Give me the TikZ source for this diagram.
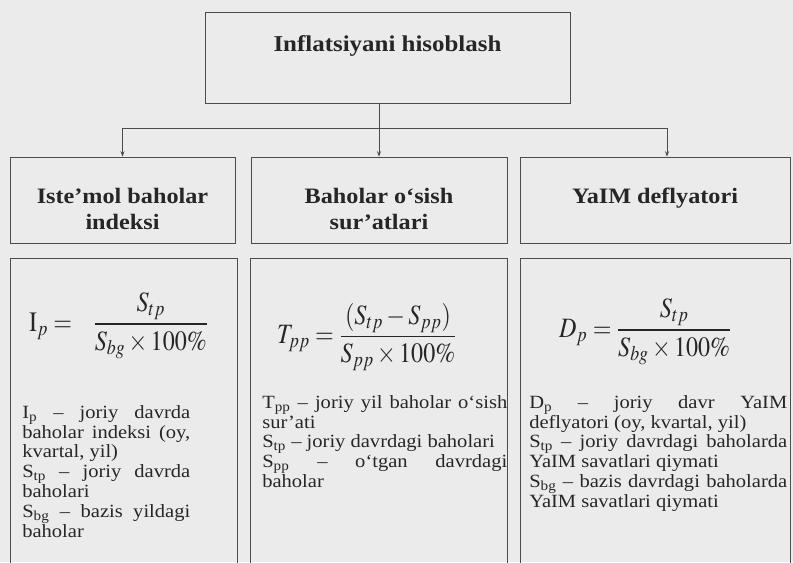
\documentclass[tikz,border=0pt]{standalone}
\usepackage{amsmath}
\usepackage{mathptmx}
\usepackage{fontspec}
\setmainfont{Liberation Serif}[FakeStretch=1.1]
\usetikzlibrary{arrows.meta}

\begin{document}
\begin{tikzpicture}[
        x=0.75pt, y=-0.75pt,
        line/.style={draw=black!70, line width=0.6pt},
        box/.style={line, rectangle, inner sep=0pt},
        head/.style={inner sep=0pt, align=center, text=black!85, font=\fontsize{16.5}{19.5}\selectfont\bfseries},
        panel/.style={box, minimum height=286.5pt},
        formula/.style={inner sep=0pt, anchor=west, text=black!85, xscale=0.86, transform shape, font=\fontsize{21}{24}\selectfont},
        note/.style={inner sep=0pt, anchor=north west, align=justify, text=black!85, font=\fontsize{14}{14.85}\selectfont},
        arrow/.style={line, -{Stealth[length=4pt, width=3pt]}}
        ]
        \fill[black!8] (0,0) rectangle (793,562);
        \useasboundingbox (0,0) rectangle (793,562);

        \node[box, minimum width=273.75pt, minimum height=68.25pt] (title) at (387.5,57.5) {};
        \node[head, font=\fontsize{17}{19.5}\selectfont\bfseries] (titletext) at ([yshift=9pt]title.center) {Inflatsiyani hisoblash};

        \node[box, minimum width=168.75pt, minimum height=64.5pt] (idx) at (122.5,200) {};
        \node[box, minimum width=192pt, minimum height=64.5pt] (rate) at (379,200) {};
        \node[box, minimum width=202.5pt, minimum height=64.5pt] (defl) at (655,200) {};
        \node[head] (idxtext) at ([yshift=-6.75pt]idx.center) {Iste’mol baholar\\indeksi};
        \node[head] (ratetext) at ([yshift=-6.75pt]rate.center) {Baholar o‘sish\\sur’atlari};
        \node[head, anchor=north] (defltext) at (defl.center |- idxtext.north) {YaIM deflyatori};

        \node[panel, minimum width=170.25pt] (idxbox) at (123.5,449) {};
        \node[panel, minimum width=192.75pt] (ratebox) at (378.5,449) {};
        \node[panel, minimum width=202.5pt] (deflbox) at (655,449) {};

        \node[formula] (fidx) at (29,326) {$\mathrm{I}_p =\;\;\; \dfrac{S_{tp}}{S_{bg}\times 100\%}$};
        \node[formula] (frate) at (277,337) {$T_{pp} = \dfrac{(S_{tp} - S_{pp})}{S_{pp}\times 100\%}$};
        \node[formula] (fdefl) at (559,332) {$D_p = \dfrac{S_{tp}}{S_{bg}\times 100\%}$};

        \node[note, text width=126pt] (nidx) at (22,405) {I\textsubscript{p} – joriy davrda\linebreak baholar indeksi (oy,\linebreak kvartal, yil)\\S\textsubscript{tp} – joriy davrda\linebreak baholari\\S\textsubscript{bg} – bazis yildagi\linebreak baholar};
        \node[note, text width=183.75pt] (nrate) at (262,395) {T\textsubscript{pp} – joriy yil baholar o‘sish\linebreak sur’ati\\S\textsubscript{tp} – joriy davrdagi baholari\\S\textsubscript{pp} – o‘tgan davrdagi\linebreak baholar};
        \node[note, text width=193.5pt] (ndefl) at (529,395) {D\textsubscript{p} – joriy davr YaIM\linebreak deflyatori (oy, kvartal, yil)\\S\textsubscript{tp} – joriy davrdagi baholarda\linebreak YaIM savatlari qiymati\\S\textsubscript{bg} – bazis davrdagi baholarda\linebreak YaIM savatlari qiymati};

        \coordinate (bus) at (379,128);
        \draw[line] (bus |- title.south) -- (bus);
        \draw[arrow] (bus) -| (idx);
        \draw[arrow] (bus) -- (rate);
        \draw[arrow] (bus) -| ([xshift=9pt]defl.north);
\end{tikzpicture}
\end{document}
